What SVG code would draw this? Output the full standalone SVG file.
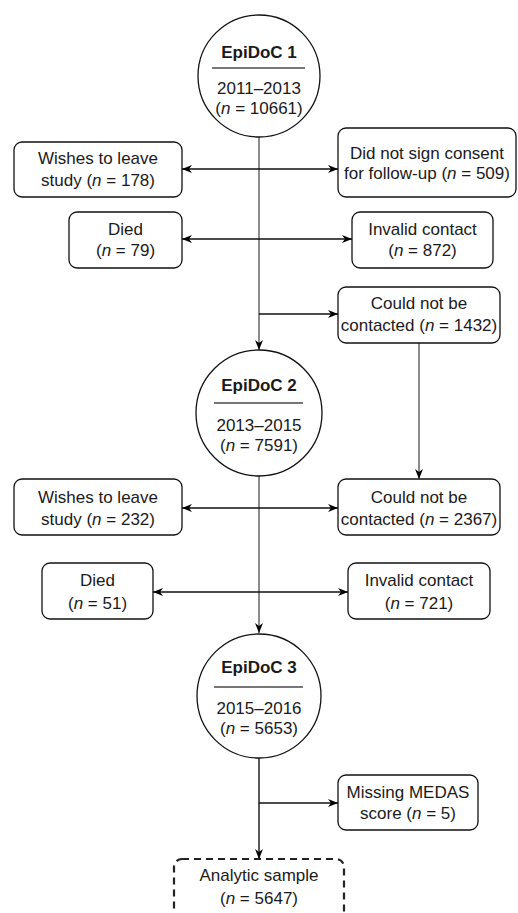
<svg xmlns="http://www.w3.org/2000/svg" width="518" height="913" viewBox="0 0 518 913">
<defs>
<marker id="ah" viewBox="0 0 10 10" refX="10" refY="5" markerWidth="10" markerHeight="10" markerUnits="userSpaceOnUse" orient="auto-start-reverse">
<path d="M0,1 L10,5 L0,9 L3,5 Z" fill="#000"/>
</marker>
</defs>
<style>
text{font-family:"Liberation Sans",Arial,sans-serif;font-size:17px;fill:#1a1a1a;text-anchor:middle}
.b{font-weight:bold}
.box{fill:#fff;stroke:#111;stroke-width:1.3}
.circ{fill:#fff;stroke:#111;stroke-width:1.3}
.sep{stroke:#777;stroke-width:2}
.v{stroke:#666;stroke-width:1.5;fill:none}
.h{stroke:#111;stroke-width:1.3;fill:none}
.dash{fill:#fff;stroke:#222;stroke-width:2.2;stroke-dasharray:7 5}
</style>
<g id="connectors">
<line class="v" x1="259" y1="137" x2="259" y2="350" marker-end="url(#ah)"/>
<line class="h" x1="182" y1="169" x2="338" y2="169" marker-start="url(#ah)" marker-end="url(#ah)"/>
<line class="h" x1="182" y1="239" x2="352" y2="239" marker-start="url(#ah)" marker-end="url(#ah)"/>
<line class="h" x1="259" y1="314" x2="338" y2="314" marker-end="url(#ah)"/>
<line class="v" x1="419" y1="343" x2="419" y2="479" marker-end="url(#ah)"/>
<line class="v" x1="259" y1="476" x2="259" y2="633" marker-end="url(#ah)"/>
<line class="h" x1="182" y1="508" x2="338" y2="508" marker-start="url(#ah)" marker-end="url(#ah)"/>
<line class="h" x1="153" y1="592" x2="348" y2="592" marker-start="url(#ah)" marker-end="url(#ah)"/>
<line class="v" x1="259" y1="758" x2="259" y2="859" marker-end="url(#ah)" style="stroke:#222"/>
<line class="h" x1="259" y1="803" x2="338" y2="803" marker-end="url(#ah)"/>
</g>
<g id="epidoc1">
<circle class="circ" cx="259" cy="76" r="61"/>
<text class="b" x="259" y="58">EpiDoC 1</text>
<line class="sep" x1="212" y1="68" x2="305" y2="68"/>
<text x="259" y="94">2011–2013</text>
<text x="259" y="114">(<tspan font-style="italic">n</tspan> = 10661)</text>
</g>
<g id="leave1">
<rect class="box" x="14" y="142" width="168" height="55" rx="8"/>
<text x="98" y="164">Wishes to leave</text>
<text x="98" y="186">study (<tspan font-style="italic">n</tspan> = 178)</text>
</g>
<g id="died1">
<rect class="box" x="69" y="212" width="113" height="56" rx="8"/>
<text x="125.5" y="235">Died</text>
<text x="125.5" y="256">(<tspan font-style="italic">n</tspan> = 79)</text>
</g>
<g id="consent">
<rect class="box" x="338" y="128" width="178" height="69" rx="8"/>
<text x="427" y="159">Did not sign consent</text>
<text x="427" y="179">for follow-up (<tspan font-style="italic">n</tspan> = 509)</text>
</g>
<g id="invalid1">
<rect class="box" x="352" y="212" width="141" height="56" rx="8"/>
<text x="422.5" y="235">Invalid contact</text>
<text x="422.5" y="256">(<tspan font-style="italic">n</tspan> = 872)</text>
</g>
<g id="nocontact1">
<rect class="box" x="338" y="287" width="162" height="56" rx="8"/>
<text x="419" y="309">Could not be</text>
<text x="419" y="331">contacted (<tspan font-style="italic">n</tspan> = 1432)</text>
</g>
<g id="epidoc2">
<circle class="circ" cx="259" cy="413" r="63"/>
<text class="b" x="259" y="391">EpiDoC 2</text>
<line class="sep" x1="214" y1="403" x2="303" y2="403"/>
<text x="259" y="431">2013–2015</text>
<text x="259" y="451">(<tspan font-style="italic">n</tspan> = 7591)</text>
</g>
<g id="leave2">
<rect class="box" x="14" y="479" width="168" height="56" rx="8"/>
<text x="98" y="503">Wishes to leave</text>
<text x="98" y="525">study (<tspan font-style="italic">n</tspan> = 232)</text>
</g>
<g id="nocontact2">
<rect class="box" x="338" y="479" width="162" height="56" rx="8"/>
<text x="419" y="503">Could not be</text>
<text x="419" y="525">contacted (<tspan font-style="italic">n</tspan> = 2367)</text>
</g>
<g id="died2">
<rect class="box" x="42" y="563" width="111" height="56" rx="8"/>
<text x="97.5" y="586">Died</text>
<text x="97.5" y="609">(<tspan font-style="italic">n</tspan> = 51)</text>
</g>
<g id="invalid2">
<rect class="box" x="348" y="563" width="142" height="56" rx="8"/>
<text x="419" y="586">Invalid contact</text>
<text x="419" y="609">(<tspan font-style="italic">n</tspan> = 721)</text>
</g>
<g id="epidoc3">
<circle class="circ" cx="259" cy="696" r="62"/>
<text class="b" x="259" y="673">EpiDoC 3</text>
<line class="sep" x1="214" y1="687" x2="303" y2="687"/>
<text x="259" y="714">2015–2016</text>
<text x="259" y="734">(<tspan font-style="italic">n</tspan> = 5653)</text>
</g>
<g id="medas">
<rect class="box" x="338" y="775" width="140" height="55" rx="8"/>
<text x="408" y="798">Missing MEDAS</text>
<text x="408" y="819">score (<tspan font-style="italic">n</tspan> = 5)</text>
</g>
<g id="analytic">
<rect class="dash" x="174" y="859" width="170" height="62" rx="8"/>
<text x="259" y="881">Analytic sample</text>
<text x="259" y="904">(<tspan font-style="italic">n</tspan> = 5647)</text>
</g>
</svg>
